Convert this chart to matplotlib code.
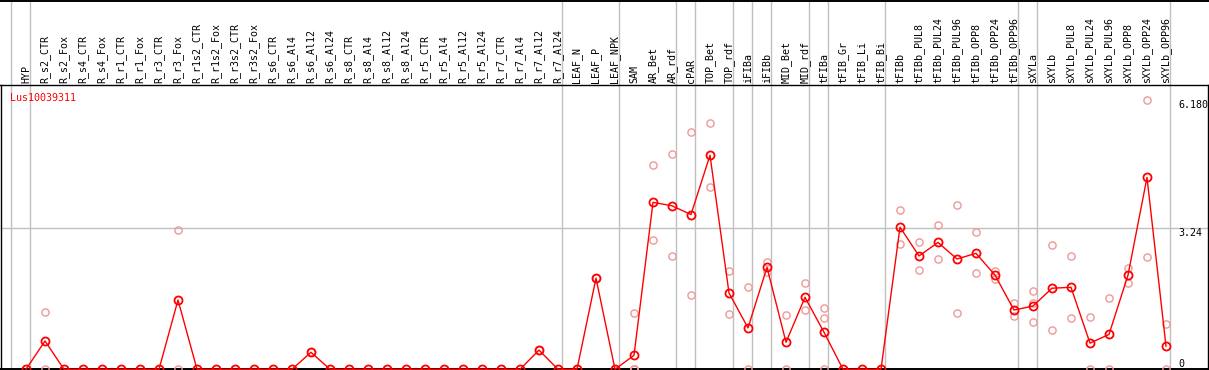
import matplotlib
matplotlib.use("Agg")
import matplotlib.pyplot as plt
import matplotlib.transforms as mtransforms

# sample names, left to right
samples = ["HYP",
           "R_s2_CTR", "R_s2_Fox", "R_s4_CTR", "R_s4_Fox", "R_r1_CTR", "R_r1_Fox",
           "R_r3_CTR", "R_r3_Fox", "R_r1s2_CTR", "R_r1s2_Fox", "R_r3s2_CTR", "R_r3s2_Fox",
           "R_s6_CTR", "R_s6_Al4", "R_s6_Al12", "R_s6_Al24",
           "R_s8_CTR", "R_s8_Al4", "R_s8_Al12", "R_s8_Al24",
           "R_r5_CTR", "R_r5_Al4", "R_r5_Al12", "R_r5_Al24",
           "R_r7_CTR", "R_r7_Al4", "R_r7_Al12", "R_r7_Al24",
           "LEAF_N", "LEAF_P", "LEAF_NPK",
           "SAM", "AR_Bet", "AR_rdf",
           "cPAR",
           "TOP_Bet", "TOP_rdf",
           "iFIBa",
           "iFIBb",
           "MID_Bet", "MID_rdf",
           "tFIBa",
           "tFIB_Gr", "tFIB_Li", "tFIB_Bi",
           "tFIBb", "tFIBb_PUL8", "tFIBb_PUL24", "tFIBb_PUL96", "tFIBb_OPP8", "tFIBb_OPP24", "tFIBb_OPP96",
           "sXYLa",
           "sXYLb", "sXYLb_PUL8", "sXYLb_PUL24", "sXYLb_PUL96", "sXYLb_OPP8", "sXYLb_OPP24", "sXYLb_OPP96"]

# how many samples sit in each block between the grey separators
group_sizes = [1, 28, 3, 3, 1, 2, 1, 1, 2, 1, 3, 7, 1, 7]

# mean expression per sample
means = [0.0,
         0.65, 0.0, 0.0, 0.0, 0.0, 0.0,
         0.0, 1.59, 0.0, 0.0, 0.0, 0.0,
         0.0, 0.0, 0.39, 0.0,
         0.0, 0.0, 0.0, 0.0,
         0.0, 0.0, 0.0, 0.0,
         0.0, 0.0, 0.44, 0.0,
         0.0, 2.09, 0.0,
         0.32, 3.83, 3.75,
         3.55,
         4.91, 1.75,
         0.95,
         2.34,
         0.62, 1.65,
         0.85,
         0.0, 0.0, 0.0,
         3.26, 2.60, 2.91, 2.53, 2.66, 2.16, 1.36,
         1.45,
         1.86, 1.88, 0.60, 0.80, 2.16, 4.40, 0.53]

# individual replicates per sample
replicates = [[],
              [1.31, 0.0], [], [], [], [], [],
              [], [3.19, 0.0], [], [], [], [],
              [], [], [0.39], [],
              [], [], [], [],
              [], [], [], [],
              [], [], [0.44], [],
              [], [2.09], [],
              [1.28, 0.0, 0.0, 0.0], [4.68, 2.96], [4.93, 2.59],
              [5.44, 1.70],
              [5.64, 4.17], [2.25, 1.27],
              [1.88, 0.0],
              [2.45, 2.24],
              [1.24, 0.0], [1.97, 1.35],
              [1.40, 1.17, 0.0],
              [], [], [],
              [3.65, 2.87], [2.91, 2.27], [3.30, 2.52], [3.76, 1.28], [3.14, 2.20], [2.25, 2.07], [1.51, 1.23],
              [1.80, 1.51, 1.08],
              [2.85, 0.90], [2.60, 1.17], [1.19, 0.0], [1.63, 0.0], [2.33, 1.97], [6.18, 2.57], [1.05, 0.0]]

gene = "Lus10039311"
ytick_vals = [6.18, 3.24, 0]
ytick_text = ["6.180", "3.24", "0"]

# ---- layout (pixels of the 1209x370 image)
W, H = 1209, 370
x0_px, step_px = 26.0, 19.0       # pixel of first sample and spacing
zero_row, px_per_unit = 369.3, 43.6
header_row = 85

red = "#ff0000"
pale = "#f09898"
grey = "#c0c0c0"
mono = "DejaVu Sans Mono"
fs = 7.2

fig = plt.figure(figsize=(W / 100.0, H / 100.0), dpi=100)
ax = fig.add_axes([0, 0, 1, 1])
ax.axis("off")
ax.set_xlim(-x0_px / step_px, (W - x0_px) / step_px)
ax.set_ylim((zero_row - H) / px_per_unit, zero_row / px_per_unit)

xs = list(range(len(samples)))

def fx(p):
    return p / float(W)

def fy(p):
    return 1.0 - p / float(H)

# grey separators between groups
bounds = [-1]
c = -1
for g in group_sizes:
    c += g
    bounds.append(c)
for b in bounds:
    ax.axvline(b + 0.23, color=grey, lw=1.0, zorder=1)

# horizontal reference line
ax.axhline(ytick_vals[1], xmin=fx(1), xmax=fx(1208), color=grey, lw=1.0, zorder=1)

# frame lines
ax.plot([0, 1], [fy(0.5), fy(0.5)], transform=ax.transAxes, color="k", lw=1.4, zorder=2)
ax.plot([0, 1], [fy(header_row), fy(header_row)], transform=ax.transAxes, color="k", lw=1.0, zorder=2)
ax.plot([0, 1], [fy(369), fy(369)], transform=ax.transAxes, color="k", lw=1.4, zorder=2)
ax.plot([fx(1), fx(1)], [fy(header_row), 0], transform=ax.transAxes, color="k", lw=1.0, zorder=2)
ax.plot([fx(1208), fx(1208)], [fy(header_row), 0], transform=ax.transAxes, color="k", lw=1.0, zorder=2)

# rotated sample labels in the header
trans_lab = mtransforms.blended_transform_factory(ax.transData, ax.transAxes)
for i, s in enumerate(samples):
    ax.text(i, fy(83), s, rotation=90, ha="center", va="bottom",
            family=mono, fontsize=fs, color="k", transform=trans_lab)

# replicates
for i, reps in enumerate(replicates):
    if len(reps) > 0:
        ax.plot([i] * len(reps), reps, linestyle="none", marker="o", ms=5.2,
                mfc="none", mec=pale, mew=1.0, zorder=3, clip_on=False)

# mean line
ax.plot(xs, means, color=red, lw=1.0, marker="o", ms=5.8, mfc="none",
        mec=red, mew=1.3, zorder=4, clip_on=False)

# gene name
ax.text(fx(10), fy(98), gene, color=red, family=mono, fontsize=fs,
        ha="left", va="center", transform=ax.transAxes)

# value labels at right
trans_y = mtransforms.blended_transform_factory(ax.transAxes, ax.transData)
for v, t in zip(ytick_vals, ytick_text):
    va = "bottom" if v == 0 else "top"
    ax.text(fx(1178), v, t, family=mono, fontsize=fs, ha="left", va=va,
            color="k", transform=trans_y)

fig.savefig("out.png", dpi=100)
